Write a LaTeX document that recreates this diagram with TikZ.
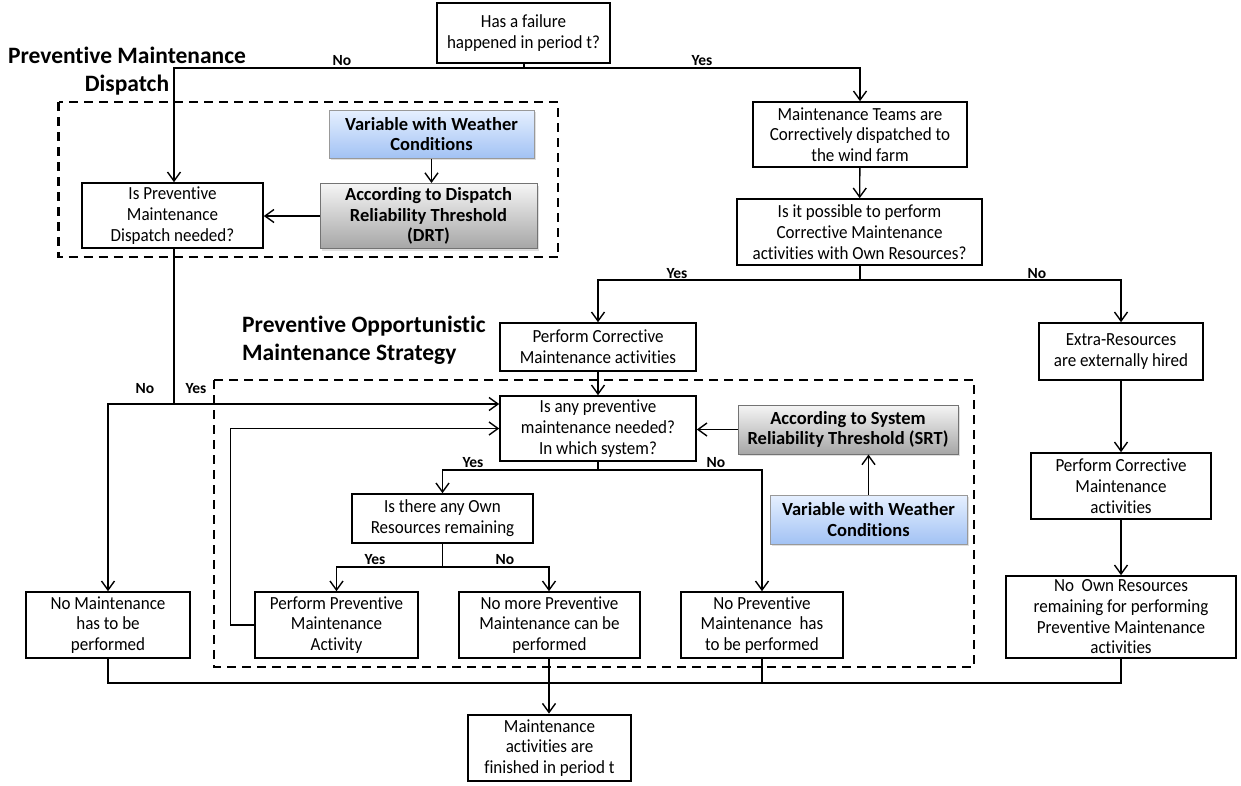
\documentclass[tikz,border=0pt]{standalone}
\usepackage{fontspec}
\setmainfont{Carlito}[Ligatures=NoCommon]
\newfontfamily\bodyfont{Carlito}[FakeStretch=0.92,Ligatures=NoCommon]
\usetikzlibrary{arrows.meta,shadows}
\begin{document}
\begin{tikzpicture}[x=1pt,y=-1pt,
  box/.style={draw,line width=1.6pt,inner sep=0pt,align=center,font=\bodyfont\fontsize{18.5}{20.7}\selectfont},
  tbox/.style={box,line width=2.8pt},
  shbox/.style={box,line width=1pt,font=\bfseries\fontsize{18.5}{20.7}\selectfont,drop shadow={opacity=0.25,shadow xshift=2pt,shadow yshift=-2pt}},
  bluebox/.style={shbox,draw=black!40,top color={rgb,255:red,230;green,240;blue,255},bottom color={rgb,255:red,162;green,194;blue,244}},
  graybox/.style={shbox,draw=black!55,top color={rgb,255:red,245;green,245;blue,245},bottom color={rgb,255:red,166;green,166;blue,166}},
  conn/.style={line width=1.4pt},
  arr/.style={conn,-{Straight Barb[length=9pt,width=13pt,line width=1.4pt]}},
  lab/.style={font=\bfseries\fontsize{15.5}{18}\selectfont,inner sep=0pt},
  ttl/.style={font=\bfseries\fontsize{23.5}{27.5}\selectfont,inner sep=0pt},
  dbox/.style={line width=2.4pt,dash pattern=on 9pt off 6pt}]
\useasboundingbox (0,0) rectangle (1241,785);

% dashed regions
\draw[dbox] (58.5,102) rectangle (558,257);
\draw[dbox] (214,380) rectangle (974,667);

% titles
\node[ttl,align=center] (t1) at (127,71) {Preventive Maintenance\\Dispatch};
\node[ttl,align=left,anchor=west] (t2) at (242,340) {Preventive Opportunistic\\Maintenance Strategy};

% boxes
\node[tbox,minimum width=173pt,minimum height=60pt] (fail) at (523.5,33) {Has a failure\\happened in period t?};
\node[box,minimum width=214pt,minimum height=65pt] (teams) at (860,134.5) {Maintenance Teams are\\Correctively dispatched to\\the wind farm};
\node[box,minimum width=245pt,minimum height=66pt] (poss) at (859.5,232) {Is it possible to perform\\Corrective Maintenance\\activities with Own Resources?};
\node[box,minimum width=196pt,minimum height=48pt] (perfC1) at (598,347) {Perform Corrective\\Maintenance activities};
\node[box,minimum width=164pt,minimum height=57pt] (extra) at (1121,351.5) {Extra-Resources\\are externally hired};
\node[box,minimum width=180pt,minimum height=66pt] (perfC2) at (1121,486) {Perform Corrective\\Maintenance\\activities};
\node[box,minimum width=230pt,minimum height=82pt] (noOwn) at (1121,617) {No~ Own Resources\\remaining for performing\\Preventive Maintenance\\activities};
\node[bluebox,minimum width=205pt,minimum height=48pt] (varD) at (431.5,134) {Variable with Weather\\Conditions};
\node[graybox,minimum width=217pt,minimum height=65pt] (drt) at (428.5,216) {According to Dispatch\\Reliability Threshold\\(DRT)};
\node[box,minimum width=181pt,minimum height=65pt] (isPrev) at (172.5,215.5) {Is Preventive\\Maintenance\\Dispatch needed?};
\node[box,minimum width=196pt,minimum height=65pt] (isAny) at (598,428.5) {Is any preventive\\maintenance needed?\\In which system?};
\node[graybox,minimum width=220pt,minimum height=49pt] (srt) at (848,429.5) {According to System\\Reliability Threshold (SRT)};
\node[bluebox,minimum width=197pt,minimum height=49pt] (varS) at (868.5,519.5) {Variable with Weather\\Conditions};
\node[box,minimum width=181pt,minimum height=49pt] (own) at (442.5,518.5) {Is there any Own\\Resources remaining};
\node[box,minimum width=164pt,minimum height=66pt] (noMaint) at (108,625) {No Maintenance\\has to be\\performed};
\node[box,minimum width=163pt,minimum height=66pt] (perfP) at (336.5,625) {Perform Preventive\\Maintenance\\Activity};
\node[box,minimum width=181pt,minimum height=66pt] (noMore) at (549.5,625) {No more Preventive\\Maintenance can be\\performed};
\node[box,minimum width=162pt,minimum height=66pt] (noPrev) at (762,625) {No Preventive\\Maintenance~ has\\to be performed};
\node[tbox,minimum width=163pt,minimum height=66pt] (final) at (549.5,748) {Maintenance\\activities are\\finished in period t};

% junctions
\coordinate (j1) at (524,68);
\coordinate (j2) at (860,280);
\coordinate (j3) at (174,404);
\coordinate (j4) at (598,470);
\coordinate (j5) at (443,567);
\coordinate (jb) at (549,683);

% connectors
\draw[conn] (fail.south -| j1) -- (j1);
\draw[arr] (j1) -| (isPrev.north -| j3);
\draw[arr] (j1) -| (teams.north);
\draw[arr] (teams) -- (poss);
\draw[conn] (poss.south -| j2) -- (j2);
\draw[arr] (j2) -| (perfC1.north);
\draw[arr] (j2) -| (extra.north);
\draw[arr] (perfC1) -- (isAny);
\draw[arr] (extra) -- (perfC2);
\draw[arr] (perfC2) -- (noOwn);
\draw[arr] (varD) -- (varD.south |- drt.north);
\draw[arr] (drt.west) -- (drt.west -| isPrev.east);
\draw[conn] (isPrev.south -| j3) -- (j3);
\draw[arr] (j3) -| (noMaint.north);
\draw[arr] (j3) -- (j3 -| isAny.west);
\draw[arr] (perfP.west) -- ++(-24,0) |- (isAny.west);
\draw[arr] (srt.west) -- (srt.west -| isAny.east);
\draw[arr] (varS.north) -- (varS.north |- srt.south);
\draw[conn] (isAny.south) -- (j4);
\draw[arr] (j4) -| (own.north);
\draw[arr] (j4) -| (noPrev.north);
\draw[conn] (own.south) -- (j5 -| own.south) -- (j5);
\draw[arr] (j5) -| (perfP.north);
\draw[arr] (j5) -| (noMore.north -| jb);
\draw[conn] (noMaint.south) |- (jb);
\draw[conn] (noOwn.south) |- (jb);
\draw[conn] (noPrev.south) -- (noPrev.south |- jb);
\draw[arr] (noMore.south -| jb) -- (final.north -| jb);

% labels
\node[lab] (l1) at (342,61) {No};
\node[lab] (l2) at (702,61) {Yes};
\node[lab] (l3) at (677,274) {Yes};
\node[lab] (l4) at (1037,274) {No};
\node[lab] (l5) at (145,389) {No};
\node[lab] (l6) at (196,389) {Yes};
\node[lab] (l7) at (473,463) {Yes};
\node[lab] (l8) at (716,463) {No};
\node[lab] (l9) at (375,560) {Yes};
\node[lab] (l10) at (505,560) {No};
\end{tikzpicture}
\end{document}
